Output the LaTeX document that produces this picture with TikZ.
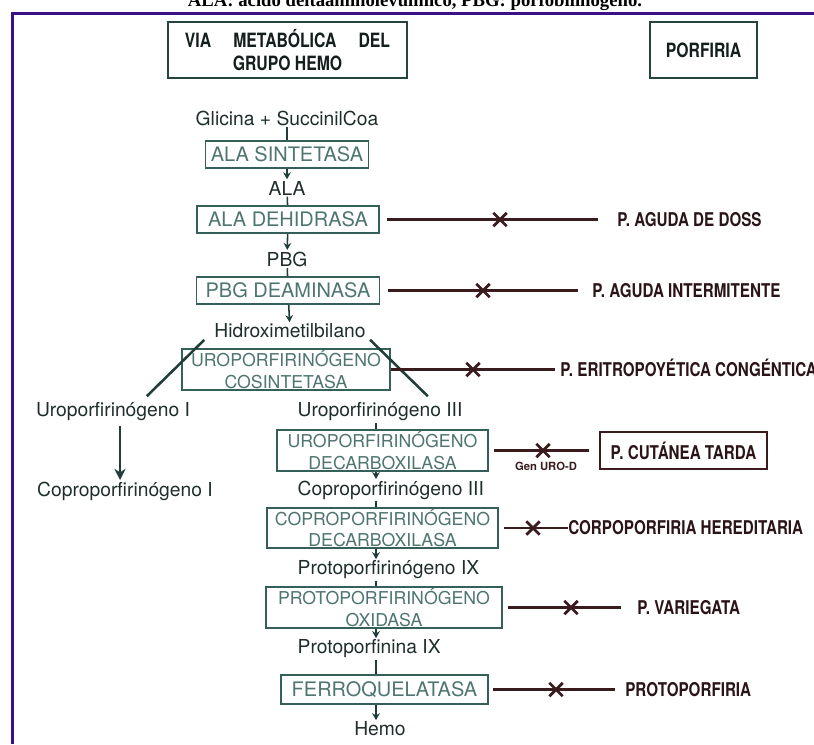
\documentclass[tikz,border=0pt]{standalone}
\usepackage{fontspec}
\setmainfont{TeX Gyre Heros}
\newfontfamily\condfont[FakeStretch=0.8]{TeX Gyre Heros}
\newfontfamily\titlefont{Liberation Serif}
\usetikzlibrary{arrows.meta,shapes.misc}

\definecolor{frameviolet}{HTML}{3B0F86}
\definecolor{headteal}{HTML}{24443F}
\definecolor{headink}{HTML}{141E1D}
\definecolor{boxteal}{HTML}{35605A}
\definecolor{enzink}{HTML}{4E7570}
\definecolor{metink}{HTML}{1F2E2C}
\definecolor{arrowteal}{HTML}{1F3D39}
\definecolor{defect}{HTML}{3A1B1E}
\definecolor{porink}{HTML}{2B1417}

\newcommand\metfont{\fontsize{13.7}{15}\selectfont}
\newcommand\enzfont{\fontsize{14.2}{15}\selectfont}
\newcommand\enzsmall{\fontsize{12.6}{15}\selectfont}
\newcommand\headfont{\condfont\bfseries\fontsize{14}{16.5}\selectfont}
\newcommand\porfont{\condfont\bfseries\fontsize{13.5}{15}\selectfont}

\begin{document}
\begin{tikzpicture}[x=0.025cm, y=-0.025cm,
  headbox/.style={draw=headteal, line width=1.8pt, align=center, font=\headfont,
                  text=headink, inner sep=0pt},
  enzbox/.style={draw=boxteal, line width=1.1pt, align=center, text=enzink,
                 font=\enzfont, inner sep=0pt},
  enztwo/.style={enzbox, font=\enzsmall},
  met/.style={text=metink, font=\metfont, inner sep=1pt},
  link/.style={draw=arrowteal, line width=1.1pt},
  arr/.style={link, -{Stealth[length=5pt,width=5.5pt]}},
  diag/.style={draw=arrowteal, line width=1.8pt},
  defline/.style={draw=defect, line width=1.8pt},
  xmark/.style={draw=defect, cross out, line width=2pt, minimum size=7.5pt, inner sep=0pt},
  porf/.style={text=porink, font=\porfont, inner sep=0pt, anchor=west,
               text height=9.7pt, text depth=0pt},
  frame/.style={draw=frameviolet, line width=2.1pt}
]
\fill[white] (0,0) rectangle (814,744);
\useasboundingbox (0,0) rectangle (814,744);

% caption cut by the frame
\node[font=\titlefont\bfseries\fontsize{13.3}{15}\selectfont, anchor=base, inner sep=0pt]
  (title) at (415,6) {ALA: ácido deltaaminolevulínico, PBG: porfobilinógeno.};
\draw[frame] (12.5,744) -- (12.5,13.5) -- (814,13.5);

% headers
\node[headbox, minimum width=5.975cm, minimum height=1.4cm] (via) at (287.5,50)
  {\makebox[5.125cm]{VIA\hfill METABÓLICA\hfill DEL}\\GRUPO HEMO};
\node[headbox, minimum width=2.675cm, minimum height=1.4cm] (porfiria) at (703.5,50) {PORFIRIA};

% main pathway
\node[met] (gly) at (287,118) {Glicina + SuccinilCoa};
\node[enzbox, minimum width=4.075cm, minimum height=0.675cm] (sint) at (287,154.5) {ALA SINTETASA};
\node[met] (ala) at (287,188) {ALA};
\node[enzbox, minimum width=4.55cm, minimum height=0.675cm] (dehi) at (288,219.5) {ALA DEHIDRASA};
\node[met] (pbg) at (287,259) {PBG};
\node[enzbox, minimum width=4.575cm, minimum height=0.675cm] (deam) at (288,290.5) {PBG DEAMINASA};
\node[met] (hmb) at (290,331) {Hidroximetilbilano};
\node[enztwo, minimum width=5.2cm, minimum height=1.025cm] (cosint) at (286,369.5)
  {UROPORFIRINÓGENO\\COSINTETASA};

\node[met] (uroI) at (113,412) {Uroporfirinógeno I};
\node[met] (coproI) at (125,491) {Coproporfirinógeno I};

\coordinate (lc) at (376,0);
\node[met, anchor=west] (uroIII) at (296,412) {Uroporfirinógeno III};
\node[enztwo, minimum width=5.275cm, minimum height=1.025cm] (urod) at (382.5,450.5)
  {UROPORFIRINÓGENO\\DECARBOXILASA};
\node[met, anchor=west] (coproIII) at (296,490) {Coproporfirinógeno III};
\node[enztwo, minimum width=5.775cm, minimum height=1.0cm] (coprod) at (382.5,528)
  {COPROPORFIRINÓGENO\\DECARBOXILASA};
\node[met, anchor=west] (protoIX) at (296,570) {Protoporfirinógeno IX};
\node[enztwo, minimum width=5.9cm, minimum height=1.025cm] (protoox) at (384,607.5)
  {PROTOPORFIRINÓGENO\\OXIDASA};
\node[met, anchor=west] (protoIXn) at (296,649) {Protoporfinina IX};
\node[enzbox, minimum width=5.175cm, minimum height=0.725cm] (ferro) at (384.5,689.5) {FERROQUELATASA};
\node[met] (hemo) at (380,729) {Hemo};

\draw[link] (gly) -- (sint);
\draw[arr] (sint) -- (ala);
\draw[link] (ala) -- (dehi);
\draw[arr] (dehi) -- (pbg);
\draw[link] (pbg) -- (deam);
\draw[arr] (deam) -- (hmb);
\draw[diag] ([xshift=-6pt]hmb.south west) -- ([xshift=24pt,yshift=3.5pt]uroI.north);
\draw[diag] ([xshift=2pt]hmb.south east) -- ([xshift=34pt,yshift=3.5pt]uroIII.north);
\draw[diag, -{Stealth[length=8pt,width=8pt]}, shorten <=2pt]
  ([xshift=5pt]uroI.south) -- ([xshift=5pt]uroI.south |- coproI.north);

\draw[link] (uroIII.south -| lc) -- (urod.north -| lc);
\draw[arr] (urod.south -| lc) -- (coproIII.north -| lc);
\draw[link] (coproIII.south -| lc) -- (coprod.north -| lc);
\draw[arr] (coprod.south -| lc) -- (protoIX.north -| lc);
\draw[link] (protoIX.south -| lc) -- (protoox.north -| lc);
\draw[arr] (protoox.south -| lc) -- (protoIXn.north -| lc);
\draw[link] (protoIXn.south -| lc) -- (ferro.north -| lc);
\draw[arr] (ferro.south -| lc) -- (hemo.north -| lc);

% enzyme defects
\node[porf] (doss) at (617,219.5) {P. AGUDA DE DOSS};
\draw[defline, shorten <=5pt, shorten >=13.5pt] (dehi.east) -- (doss.west);
\node[xmark] (xdoss) at (500,219.5) {};

\node[porf] (aip) at (592,290.5) {P. AGUDA INTERMITENTE};
\draw[defline, shorten <=5.3pt, shorten >=10pt] (deam.east) -- (aip.west);
\node[xmark] (xaip) at (483,290.5) {};

\node[porf] (pec) at (560,369.5) {P. ERITROPOYÉTICA CONGÉNTICA};
\draw[defline, shorten >=3.5pt] (cosint.east) -- (pec.west);
\node[xmark] (xpec) at (473,369.5) {};

\node[draw=defect, line width=1.3pt, text=porink, font=\porfont, inner sep=0pt,
      minimum width=4.175cm, minimum height=0.925cm] (pct) at (683.5,450.5) {P. CUTÁNEA TARDA};
\draw[defline, shorten <=3.9pt, shorten >=7pt] (urod.east) -- (pct.west);
\node[xmark] (xpct) at (543,450.5) {};
\node[text=defect, font=\bfseries\fontsize{8}{9}\selectfont, inner sep=0pt] (gen) at (546,466) {Gen URO-D};

\node[porf] (cph) at (568,528) {CORPOPORFIRIA HEREDITARIA};
\draw[defline, shorten <=3.9pt] (coprod.east) -- (cph.west);
\node[xmark] (xcph) at (533,528) {};

\node[porf] (pv) at (637,607.5) {P. VARIEGATA};
\draw[defline, shorten <=3.5pt, shorten >=11.3pt] (protoox.east) -- (pv.west);
\node[xmark] (xpv) at (571,607.5) {};

\node[porf] (pp) at (625,689.5) {PROTOPORFIRIA};
\draw[defline, shorten <=3.2pt, shorten >=7pt] (ferro.east) -- (pp.west);
\node[xmark] (xpp) at (556,689.5) {};
\end{tikzpicture}
\end{document}
